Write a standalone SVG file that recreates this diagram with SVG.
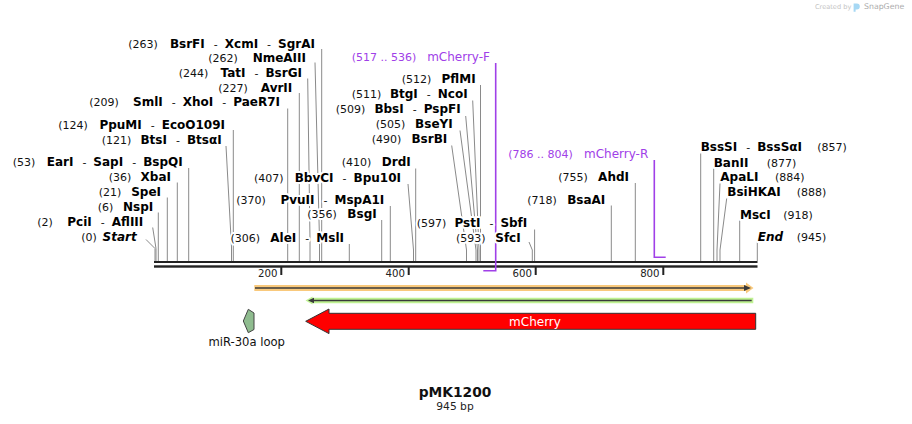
<svg xmlns="http://www.w3.org/2000/svg" width="912" height="424" viewBox="0 0 912 424">
<style>
text{font-family:"DejaVu Sans",Verdana,sans-serif}
.n{font-size:11px;fill:#111}
.b{font-size:12px;font-weight:bold;fill:#000}
.bi{font-size:12px;font-weight:bold;font-style:italic;fill:#000}
.d{font-size:11px;font-weight:normal;fill:#111}
.lbl text{stroke:#fff;stroke-width:4px;stroke-linejoin:round;paint-order:stroke fill}
.pr{fill:#a040e8}
.prl{fill:none;stroke:#a040e8;stroke-width:1.6}
.tk{font-size:10.2px;fill:#222}
</style>
<rect width="912" height="424" fill="#fff"/>

<g id="watermark">
<text x="815" y="9" style="font-size:6.6px;fill:#c4c4c4">Created by</text>
<path d="M853.6 3.5h3.2a3 3 0 0 1 0 6h-1.2v2.2h-2z" fill="#a6d8f4"/>
<text x="864" y="9.4" style="font-size:7.8px;fill:#ababab">SnapGene</text>
</g>

<g id="backbone">
<rect x="154" y="261" width="603.5" height="2" fill="#222"/>
<rect x="154" y="265.3" width="603.5" height="2.4" fill="#222"/>
<path d="M281.3 267v8M408.7 267v8M535.7 267v8M663.3 267v8" stroke="#222" stroke-width="2"/>
<text class="tk" x="277.5" y="277.3" text-anchor="end">200</text>
<text class="tk" x="405" y="277.3" text-anchor="end">400</text>
<text class="tk" x="532" y="277.3" text-anchor="end">600</text>
<text class="tk" x="659.6" y="277.3" text-anchor="end">800</text>
</g>

<g id="connectors" fill="none" stroke="#8a8a8a" stroke-width="1">
<polyline points="146,239.5 155,248.5 155,261"/>
<polyline points="152.7,227.5 156,248.5 156,261"/>
<path d="M158.3 212.5V261"/>
<path d="M167.3 197.5V261"/>
<path d="M177.3 182.5V261"/>
<path d="M188.7 168V261"/>
<polyline points="226,146 231.5,247 231.5,261"/>
<path d="M233.3 130V261"/>
<path d="M287.7 108.5V261"/>
<path d="M299.3 93V261"/>
<polyline points="307.7,78.5 310,240 310,261"/>
<polyline points="315,62.5 319.5,240 319.5,261"/>
<path d="M321.7 49V261"/>
<path d="M349.3 244V261"/>
<path d="M381.7 220V261"/>
<path d="M390.3 206V261"/>
<polyline points="408,184 413.5,250 413.5,261"/>
<path d="M415.7 168.5V261"/>
<polyline points="451.7,145.5 466.5,250 466.5,261"/>
<polyline points="460,130.5 476,250 476,261"/>
<polyline points="465.7,116 477.5,250 477.5,261"/>
<polyline points="472.7,100.5 479,250 479,261"/>
<path d="M480.5 85V261"/>
<polyline points="529,242 532.3,250 532.3,261"/>
<path d="M534.6 229.5V261"/>
<path d="M611.3 205.5V261"/>
<path d="M635.3 183V261"/>
<path d="M700.7 153.5V261"/>
<path d="M713.7 168.5V261"/>
<polyline points="720,183.5 717,250 717,261"/>
<polyline points="726.7,198.5 720,250 720,261"/>
<path d="M739.7 220.5V261"/>
<path d="M757.3 241.5V261"/>
</g>

<g id="primer-mCherry-F">
<path class="prl" d="M495.7 63V270.7H483.3"/>
<text class="pr" x="351.7" y="61" style="font-size:11px">(517 .. 536)</text>
<text class="pr" x="490" y="61" text-anchor="end" style="font-size:12px">mCherry-F</text>
</g>
<g id="primer-mCherry-R">
<path class="prl" d="M654.3 160V257.3H665.7"/>
<text class="pr" x="508.3" y="157.5" style="font-size:11px">(786 .. 804)</text>
<text class="pr" x="648.3" y="157.5" text-anchor="end" style="font-size:12px">mCherry-R</text>
</g>

<g id="feature-orange">
<polygon points="254.3,285 746,285 746,282.5 753.5,288 746,293.5 746,291 254.3,291" fill="#f9c97c"/>
<line x1="255" y1="288" x2="746" y2="288" stroke="#3a3a3a" stroke-width="1.6"/>
<polygon points="744,285 751,288 744,291" fill="#3a3a3a"/>
</g>
<g id="feature-green">
<polygon points="305.5,300.5 312.5,296.5 312.5,297.7 753.3,297.7 753.3,303.3 312.5,303.3 312.5,304.5" fill="#bff292"/>
<line x1="312" y1="300.5" x2="751.7" y2="300.5" stroke="#3a3a3a" stroke-width="1.6"/>
<polygon points="308,300.5 314,297.7 314,303.3" fill="#3a3a3a"/>
</g>
<g id="feature-mCherry">
<polygon points="305.7,321.3 329,309 329,313.3 755.7,313.3 755.7,329.3 329,329.3 329,333.6" fill="#ff0000" stroke="#333" stroke-width="1"/>
<text x="535" y="325.5" text-anchor="middle" style="font-size:12px;fill:#fff">mCherry</text>
</g>
<g id="feature-miR-30a-loop">
<polygon points="243.3,321 248.3,309.3 254,313 254,329.5 248.3,332.7" fill="#8fbc8f" stroke="#444" stroke-width="1"/>
<text x="246.7" y="346.3" text-anchor="middle" style="font-size:11.6px;fill:#111">miR-30a loop</text>
</g>

<g class="lbl">
<g id="site-263"><text class="n" x="128.3" y="47.5">(263)</text><text class="b" x="315" y="47.5" text-anchor="end">BsrFI<tspan class="d" dx="9">-</tspan><tspan dx="7">XcmI</tspan><tspan class="d" dx="9">-</tspan><tspan dx="7">SgrAI</tspan></text></g>
<g id="site-262"><text class="n" x="208.3" y="62.3">(262)</text><text class="b" x="306" y="62.3" text-anchor="end">NmeAIII</text></g>
<g id="site-244"><text class="n" x="178.7" y="77">(244)</text><text class="b" x="302" y="77" text-anchor="end">TatI<tspan class="d" dx="9">-</tspan><tspan dx="7">BsrGI</tspan></text></g>
<g id="site-227"><text class="n" x="218.3" y="91.7">(227)</text><text class="b" x="292.3" y="91.7" text-anchor="end">AvrII</text></g>
<g id="site-209"><text class="n" x="89.3" y="106">(209)</text><text class="b" x="280" y="106" text-anchor="end">SmlI<tspan class="d" dx="9">-</tspan><tspan dx="7">XhoI</tspan><tspan class="d" dx="9">-</tspan><tspan dx="7">PaeR7I</tspan></text></g>
<g id="site-124"><text class="n" x="58.3" y="129.3">(124)</text><text class="b" x="225" y="129.3" text-anchor="end">PpuMI<tspan class="d" dx="9">-</tspan><tspan dx="7">EcoO109I</tspan></text></g>
<g id="site-121"><text class="n" x="101.7" y="144.3">(121)</text><text class="b" x="221.7" y="144.3" text-anchor="end">BtsI<tspan class="d" dx="9">-</tspan><tspan dx="7">BtsαI</tspan></text></g>
<g id="site-53"><text class="n" x="12.7" y="166.3">(53)</text><text class="b" x="182.7" y="166.3" text-anchor="end">EarI<tspan class="d" dx="9">-</tspan><tspan dx="7">SapI</tspan><tspan class="d" dx="9">-</tspan><tspan dx="7">BspQI</tspan></text></g>
<g id="site-36"><text class="n" x="108.7" y="181.3">(36)</text><text class="b" x="171" y="181.3" text-anchor="end">XbaI</text></g>
<g id="site-21"><text class="n" x="98.7" y="196.3">(21)</text><text class="b" x="161" y="196.3" text-anchor="end">SpeI</text></g>
<g id="site-6"><text class="n" x="97.7" y="211.3">(6)</text><text class="b" x="153.3" y="211.3" text-anchor="end">NspI</text></g>
<g id="site-2"><text class="n" x="37.3" y="226.3">(2)</text><text class="b" x="143.3" y="226.3" text-anchor="end">PciI<tspan class="d" dx="9">-</tspan><tspan dx="7">AflIII</tspan></text></g>
<g id="site-0"><text class="n" x="81.3" y="241.3">(0)</text><text class="bi" x="136.7" y="241.3" text-anchor="end">Start</text></g>

<g id="site-410"><text class="n" x="341.7" y="166.3">(410)</text><text class="b" x="410.7" y="166.3" text-anchor="end">DrdI</text></g>
<g id="site-407"><text class="n" x="254" y="181.5">(407)</text><text class="b" x="401" y="181.5" text-anchor="end">BbvCI<tspan class="d" dx="9">-</tspan><tspan dx="7">Bpu10I</tspan></text></g>
<g id="site-370"><text class="n" x="236.3" y="203.7">(370)</text><text class="b" x="384.3" y="203.7" text-anchor="end">PvuII<tspan class="d" dx="9">-</tspan><tspan dx="7">MspA1I</tspan></text></g>
<g id="site-356"><text class="n" x="307.3" y="218">(356)</text><text class="b" x="376.7" y="218" text-anchor="end">BsgI</text></g>
<g id="site-306"><text class="n" x="230.5" y="241.5">(306)</text><text class="b" x="344" y="241.5" text-anchor="end">AleI<tspan class="d" dx="9">-</tspan><tspan dx="7">MslI</tspan></text></g>
<g id="site-512"><text class="n" x="401.7" y="83">(512)</text><text class="b" x="475.7" y="83" text-anchor="end">PflMI</text></g>
<g id="site-511"><text class="n" x="351.7" y="98">(511)</text><text class="b" x="467.7" y="98" text-anchor="end">BtgI<tspan class="d" dx="9">-</tspan><tspan dx="7">NcoI</tspan></text></g>
<g id="site-509"><text class="n" x="335.7" y="113.3">(509)</text><text class="b" x="460.7" y="113.3" text-anchor="end">BbsI<tspan class="d" dx="9">-</tspan><tspan dx="7">PspFI</tspan></text></g>
<g id="site-505"><text class="n" x="375.7" y="128">(505)</text><text class="b" x="452.7" y="128" text-anchor="end">BseYI</text></g>
<g id="site-490"><text class="n" x="371.7" y="143">(490)</text><text class="b" x="447.3" y="143" text-anchor="end">BsrBI</text></g>
<g id="site-597"><text class="n" x="416.7" y="226.5">(597)</text><text class="b" x="527.3" y="226.5" text-anchor="end">PstI<tspan class="d" dx="9">-</tspan><tspan dx="7">SbfI</tspan></text></g>
<g id="site-593"><text class="n" x="456" y="241.5">(593)</text><text class="b" x="520.7" y="241.5" text-anchor="end">SfcI</text></g>
<g id="site-718"><text class="n" x="527.3" y="204">(718)</text><text class="b" x="605.3" y="204" text-anchor="end">BsaAI</text></g>
<g id="site-755"><text class="n" x="558.3" y="181.3">(755)</text><text class="b" x="629" y="181.3" text-anchor="end">AhdI</text></g>

<g id="site-857"><text class="b" x="700.7" y="151">BssSI<tspan class="d" dx="9">-</tspan><tspan dx="7">BssSαI</tspan></text><text class="n" x="817.3" y="151">(857)</text></g>
<g id="site-877"><text class="b" x="713.7" y="166.5">BanII</text><text class="n" x="766.7" y="166.5">(877)</text></g>
<g id="site-884"><text class="b" x="720.3" y="181">ApaLI</text><text class="n" x="775" y="181">(884)</text></g>
<g id="site-888"><text class="b" x="727.3" y="196">BsiHKAI</text><text class="n" x="796.7" y="196">(888)</text></g>
<g id="site-918"><text class="b" x="740" y="218.5">MscI</text><text class="n" x="783.3" y="218.5">(918)</text></g>
<g id="site-945"><text class="bi" x="757.7" y="241">End</text><text class="n" x="796.7" y="241">(945)</text></g>
</g>

<g id="title">
<text x="455" y="397.3" text-anchor="middle" style="font-size:13.8px;font-weight:bold;fill:#111">pMK1200</text>
<text x="455" y="410" text-anchor="middle" style="font-size:10.7px;fill:#222">945 bp</text>
</g>
</svg>
